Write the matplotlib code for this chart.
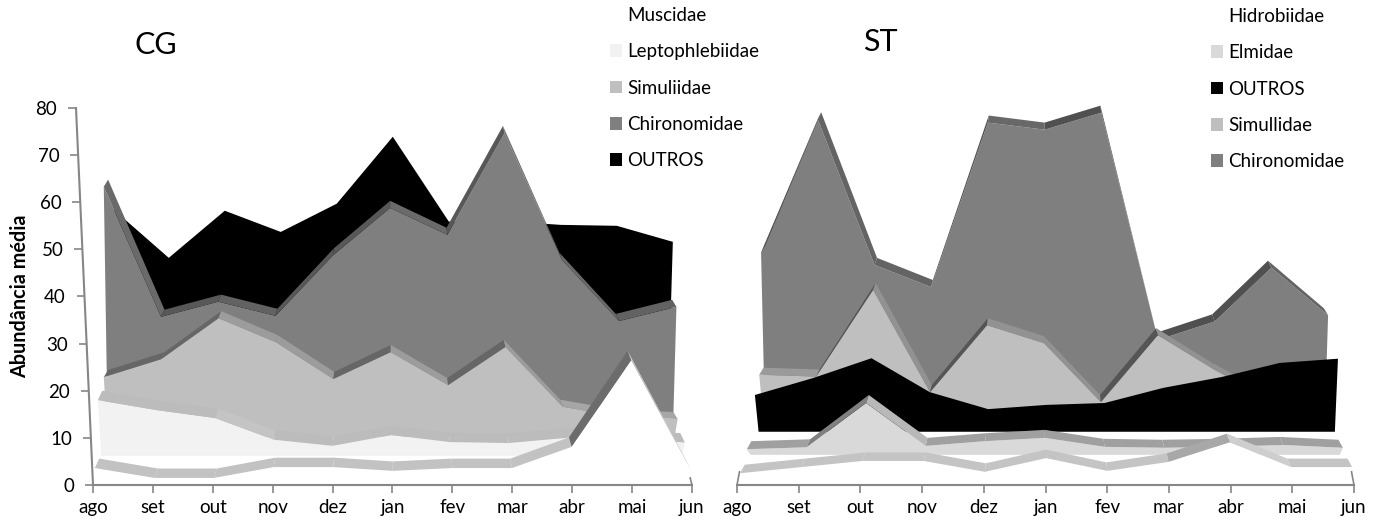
import numpy as np
import matplotlib
matplotlib.use("Agg")
import matplotlib.pyplot as plt
from matplotlib.patches import Patch
from matplotlib.transforms import ScaledTranslation

plt.rcParams['font.family'] = ['Lato', 'DejaVu Sans']

meses = ['ago', 'set', 'out', 'nov', 'dez', 'jan', 'fev', 'mar', 'abr', 'mai', 'jun']
y_ticks = [0, 10, 20, 30, 40, 50, 60, 70, 80]

# CG (values as they appear on the 3D chart)
cg_outros = [58.6, 48.2, 58.2, 53.7, 59.7, 73.9, 55.9, 56.0, 55.2, 55.0, 51.6]
cg_chiro = [63.3, 35.7, 38.9, 35.9, 48.7, 58.8, 53.1, 74.7, 47.8, 34.8, 37.8]
cg_simul = [22.9, 26.7, 35.4, 30.3, 22.5, 28.2, 21.2, 29.3, 16.6, 14.5, 14.0]
cg_lepto = [18.0, 15.9, 14.2, 9.6, 8.3, 10.6, 9.1, 8.9, 10.0, 10.0, 9.0]
cg_musc = [3.6, 1.5, 1.5, 3.8, 3.8, 3.0, 3.6, 3.6, 8.1, 26.5, 3.2]

# ST
st_chiro = [49.3, 77.6, 46.7, 42.0, 76.9, 75.4, 79.0, 30.8, 34.7, 46.1, 36.0]
st_simul = [23.4, 23.0, 41.4, 19.7, 33.9, 30.1, 17.6, 31.8, 24.4, 18.0, 18.0]
st_outros = [19.1, 22.7, 26.9, 19.7, 16.1, 17.0, 17.4, 20.6, 22.9, 25.9, 26.8]
st_elm = [7.6, 8.0, 17.4, 8.3, 9.3, 10.0, 8.1, 7.9, 8.1, 8.5, 7.9]
st_hidro = [2.5, 3.8, 5.1, 5.1, 2.8, 5.7, 3.0, 4.9, 9.1, 3.8, 3.8]

PRETO, CINZA, MEDIO, CLARO, PALIDO = 'black', '#7f7f7f', '#bfbfbf', '#d9d9d9', '#f2f2f2'
EIXO = '#868686'

# fill, band (rise, flat, fall), x start, x end, base, band height, rise threshold
cg_layers = [
    (cg_outros, PRETO, None, 0.33, 9.68, 30.0, 0, 3),
    (cg_chiro, CINZA, ('#585858', '#626262', '#6a6a6a'), 0.18, 9.74, 15.2, 1.5, 3),
    (cg_simul, MEDIO, ('#666666', '#a6a6a6', '#9c9c9c'), 0.18, 9.76, 10.2, 1.5, 3),
    (cg_lepto, PALIDO, ('#b4b4b4', '#bcbcbc', '#c4c4c4'), 0.08, 9.88, 6.2, 2.0, 3),
    (cg_musc, 'white', ('#6c6c6c', '#c2c2c2', '#cccccc'), 0.03, 9.98, 0.0, 2.0, 6),
]
st_layers = [
    (st_chiro, CINZA, ('#505050', '#686868', '#646464'), 0.39, 9.58, 15.0, 1.5, 3),
    (st_simul, MEDIO, ('#555555', '#9a9a9a', '#929292'), 0.36, 9.59, 15.0, 1.5, 3),
    (st_outros, PRETO, None, 0.29, 9.74, 11.3, 0, 3),
    (st_elm, CLARO, ('#808080', '#a0a0a0', '#b8b8b8'), 0.16, 9.82, 6.4, 1.7, 3),
    (st_hidro, 'white', ('#a8a8a8', '#c4c4c4', '#cecece'), 0.05, 9.97, 0.0, 1.8, 3),
]


def draw_layers(ax, layers):
    for valores, cor, banda, x0, x1, base, altura, limite in layers:
        y = np.array(valores)
        x = np.linspace(x0, x1, len(y))
        ax.fill(np.r_[x, x1 - 0.05, x0 + 0.06], np.r_[y, base, base],
                color=cor, lw=0, clip_on=False)
        if banda is None:
            continue
        xb = 5 + (x - 5) * 0.985
        for i in range(len(y) - 1):
            dy = y[i + 1] - y[i]
            c = banda[0] if dy > limite else banda[2] if dy < -3 else banda[1]
            ax.fill([x[i], x[i + 1], xb[i + 1], xb[i]],
                    [y[i], y[i + 1], y[i + 1] + altura, y[i] + altura],
                    color=c, lw=0, clip_on=False)


def setup_axis(ax):
    ax.set_xlim(0, 10)
    ax.set_ylim(0, 80)
    ax.set_xticks(range(len(meses)))
    ax.set_xticklabels(meses, fontsize=13.5)
    ax.tick_params(axis='x', color=EIXO, width=1.2, length=6, pad=4)
    for lado in ['top', 'right', 'left']:
        ax.spines[lado].set_visible(False)
    ax.spines['bottom'].set_color(EIXO)
    ax.spines['bottom'].set_linewidth(1.5)
    ax.patch.set_alpha(0)


W, H = 1380, 523
fig = plt.figure(figsize=(W / 100, H / 100), dpi=100)
ax1 = fig.add_axes([93 / W, 1 - 485 / H, 599 / W, 377 / H])
ax2 = fig.add_axes([737 / W, 1 - 485 / H, 617 / W, 377 / H])

draw_layers(ax1, cg_layers)
draw_layers(ax2, st_layers)
setup_axis(ax1)
setup_axis(ax2)

# slanted y axis on CG, ticks and labels follow it
ax1.plot([0, -17 / 59.9], [0, 80], color=EIXO, lw=1.5, clip_on=False)
ax1.set_yticks(y_ticks)
ax1.set_yticklabels(y_ticks, fontsize=13.5)
ax1.tick_params(axis='y', color=EIXO, width=1.2, length=6, pad=7.5)
for v, tick in zip(y_ticks, ax1.yaxis.get_major_ticks()):
    desloc = ScaledTranslation(-17 * v / 80 / 100, 0, fig.dpi_scale_trans)
    tick.tick1line.set_transform(tick.tick1line.get_transform() + desloc)
    tick.label1.set_transform(tick.label1.get_transform() + desloc)
ax2.set_yticks([])

ax1.set_ylabel('Abundância média', fontsize=14.3, fontweight='bold')
ax1.yaxis.set_label_coords((30 - 93) / 599, (485 - 296) / 377)

# short depth edges at both ends of the floor
ax1.plot([10, 9.97], [0, 1.5], color=EIXO, lw=1.2, clip_on=False)
ax2.plot([0, 0.04], [0, 2.8], color=EIXO, lw=1.2, clip_on=False)
ax2.plot([10, 9.96], [0, 2.8], color=EIXO, lw=1.2, clip_on=False)

fig.text(156 / W, 1 - 45 / H, 'CG', fontsize=22, ha='center', va='center')
fig.text(880 / W, 1 - 42 / H, 'ST', fontsize=22, ha='center', va='center')


def add_legend(labels, cores, x, y):
    handles = [Patch(facecolor=c, edgecolor='none') for c in cores]
    fig.legend(handles, labels, loc='upper left', bbox_to_anchor=(x / W, 1 - y / H),
               bbox_transform=fig.transFigure, frameon=False, fontsize=13.5,
               handlelength=0.65, handleheight=0.65, handletextpad=0.27,
               labelspacing=1.03, borderpad=0, borderaxespad=0)


add_legend(['Muscidae', 'Leptophlebiidae', 'Simuliidae', 'Chironomidae', 'OUTROS'],
           ['white', PALIDO, MEDIO, CINZA, PRETO], 610, 7)
add_legend(['Hidrobiidae', 'Elmidae', 'OUTROS', 'Simullidae', 'Chironomidae'],
           ['white', CLARO, PRETO, MEDIO, CINZA], 1211, 8)

fig.savefig('out.png', dpi=100)
